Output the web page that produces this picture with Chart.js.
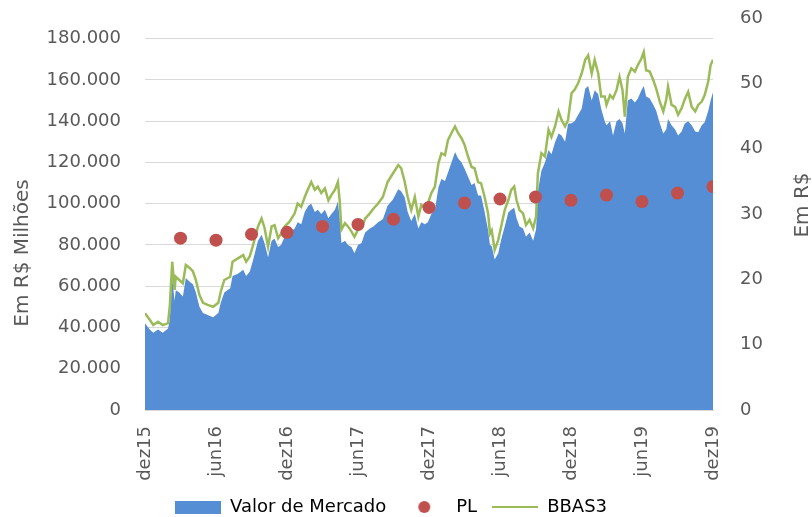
<!DOCTYPE html>
<html>
<head>
<meta charset="utf-8">
<script src="https://cdn.jsdelivr.net/npm/chart.js@4.4.1/dist/chart.umd.min.js"></script>
<style>
    html, body { margin: 0; padding: 0; background: #fff; }
    #wrap { width: 812px; height: 517px; }
</style>
</head>
<body>
<div id="wrap"><canvas id="grafico" width="812" height="517"></canvas></div>
<script>
// meses contados a partir de dez15 (0 = dez15, 48 = dez19)
var meses = [
    0, 0.4, 0.7, 1.1, 1.5, 1.95, 2.1, 2.3, 2.5, 2.6,
    2.9, 3.2, 3.45, 3.8, 4.05, 4.3, 4.6, 4.9, 5.3, 5.75,
    6.2, 6.4, 6.7, 7.2, 7.4, 7.85, 8.3, 8.55, 8.85, 9.1,
    9.55, 9.85, 10.1, 10.4, 10.7, 10.95, 11.25, 11.5, 11.8, 12.2,
    12.65, 12.9, 13.2, 13.5, 13.8, 14.05, 14.35, 14.6, 14.9, 15.2,
    15.5, 15.75, 16.05, 16.3, 16.45, 16.6, 16.9, 17.15, 17.45, 17.7,
    18.0, 18.3, 18.6, 19.0, 19.3, 19.7, 20.1, 20.5, 20.95, 21.4,
    21.65, 21.95, 22.2, 22.5, 22.8, 23.1, 23.35, 23.65, 23.9, 24.2,
    24.5, 24.8, 25.05, 25.35, 25.6, 25.9, 26.2, 26.45, 26.75, 27.0,
    27.3, 27.6, 27.85, 28.15, 28.4, 28.7, 29.0, 29.15, 29.3, 29.55,
    29.85, 30.1, 30.4, 30.7, 30.95, 31.2, 31.4, 31.65, 31.95, 32.2,
    32.5, 32.8, 33.05, 33.2, 33.5, 33.8, 34.1, 34.35, 34.65, 34.95,
    35.2, 35.5, 35.75, 36.05, 36.3, 36.6, 36.9, 37.2, 37.45, 37.75,
    38.0, 38.3, 38.55, 38.85, 39.0, 39.3, 39.55, 39.85, 40.1, 40.35,
    40.55, 40.8, 41.1, 41.4, 41.65, 41.95, 42.15, 42.35, 42.65, 42.95,
    43.2, 43.5, 43.8, 44.05, 44.2, 44.5, 44.8, 45.05, 45.35, 45.6,
    45.9, 46.2, 46.5, 46.75, 47.05, 47.3, 47.6, 47.8, 48
];

// cotacao BBAS3 (R$)
var bbas3 = [
    14.8, 13.8, 13.0, 13.5, 13.0, 13.3, 16.0, 22.7, 18.4, 20.4,
    19.9, 19.4, 22.2, 21.7, 21.2, 19.9, 17.6, 16.4, 16.1, 15.8,
    16.4, 18.1, 19.9, 20.4, 22.7, 23.2, 23.7, 22.7, 23.5, 25.0,
    28.1, 29.3, 27.9, 25.0, 28.1, 28.3, 26.3, 27.0, 28.1, 28.8,
    30.1, 31.6, 31.1, 32.6, 33.9, 34.9, 33.7, 34.2, 33.2, 33.9,
    32.1, 32.9, 33.7, 34.9, 32.1, 27.6, 28.6, 28.1, 27.3, 26.5,
    27.6, 27.8, 29.3, 30.1, 30.8, 31.6, 32.6, 34.9, 36.2, 37.5,
    37.0, 34.9, 32.6, 30.6, 32.6, 29.6, 31.4, 30.9, 31.6, 33.2,
    34.2, 37.8, 39.3, 39.0, 41.3, 42.4, 43.4, 42.4, 41.6, 40.6,
    38.8, 37.2, 37.0, 34.9, 34.7, 32.6, 30.0, 27.0, 27.5, 24.5,
    26.0, 28.1, 30.6, 32.1, 33.7, 34.2, 32.1, 30.6, 30.1, 28.3,
    29.1, 27.8, 29.6, 36.2, 39.3, 38.8, 42.9, 41.8, 43.4, 45.7,
    44.4, 43.4, 44.4, 48.5, 49.0, 50.0, 51.5, 53.6, 54.3, 51.5,
    53.6, 51.5, 48.0, 48.0, 46.7, 48.2, 47.7, 49.0, 51.0, 49.0,
    44.9, 51.0, 52.3, 51.8, 52.8, 53.8, 54.8, 52.0, 51.8, 50.5,
    49.2, 47.2, 45.7, 47.5, 49.5, 46.7, 46.4, 45.2, 46.2, 47.5,
    48.7, 46.4, 45.7, 46.7, 47.2, 48.2, 50.3, 52.8, 53.6
];

// valor de mercado (R$ milhoes)
var valorMercado = [
    42000, 39000, 37500, 39000, 37500, 39500, 44000, 64000, 53000, 58000,
    57000, 55000, 64000, 62000, 61000, 57000, 50000, 47000, 46000, 45000,
    47000, 52000, 57000, 59000, 65000, 66000, 68000, 65000, 67000, 72000,
    82000, 85000, 81000, 74000, 82000, 83000, 79000, 80000, 84000, 86000,
    88000, 91000, 90000, 96000, 99000, 100000, 96000, 97000, 95000, 97000,
    93000, 95000, 97000, 101000, 93000, 81000, 82000, 80000, 79000, 76000,
    80000, 81000, 86000, 88000, 89000, 91000, 92500, 99000, 102000, 107000,
    106000, 103000, 96000, 91600, 95000, 88000, 91000, 90000, 91000, 95000,
    97000, 108000, 112000, 111000, 115000, 120000, 125000, 122000, 120000, 117000,
    113000, 109000, 110000, 104000, 104000, 96000, 87000, 80000, 79500, 73000,
    76000, 82700, 89000, 95700, 97000, 98000, 93000, 89000, 88000, 84000,
    86000, 82000, 87600, 106000, 116000, 120000, 126000, 124000, 129800, 134000,
    133000, 130000, 138700, 139000, 140000, 143000, 146000, 155700, 157000, 150000,
    155000, 153000, 146000, 140000, 138000, 140000, 133000, 140000, 141000, 139000,
    134000, 150000, 151000, 149000, 151000, 155000, 157000, 152000, 151000, 148000,
    145000, 139000, 134000, 136000, 141000, 138000, 136000, 133000, 135000, 138700,
    140000, 138000, 135000, 134600, 138000, 139500, 145000, 150000, 154000
];

// PL por acao, trimestral (R$)
var mesesPL = [3, 6, 9, 12, 15, 18, 21, 24, 27, 30, 33, 36, 39, 42, 45, 48];
var pl = [26.3, 26.0, 26.9, 27.2, 28.1, 28.4, 29.2, 31.0, 31.7, 32.3, 32.6, 32.1, 32.9, 31.9, 33.2, 34.2];

var rotulosX = ['dez15', 'jun16', 'dez16', 'jun17', 'dez17', 'jun18', 'dez18', 'jun19', 'dez19'];
var ticksEsquerda = [0, 20000, 40000, 60000, 80000, 100000, 120000, 140000, 160000, 180000];

var AZUL = '#558ed5';
var VERMELHO = '#c0504d';
var VERDE = '#9bbb59';
var CINZA = '#595959';
var GRADE = '#d9d9d9';

Chart.defaults.font.family = "'DejaVu Sans'";
Chart.defaults.font.size = 18;
Chart.defaults.color = CINZA;

function pontos(xs, ys) {
    return xs.map(function (x, i) { return { x: x, y: ys[i] }; });
}

function formataMilhar(v) {
    return String(v).replace(/\B(?=(\d{3})+(?!\d))/g, '.');
}

function iconeLegenda(tipo) {
    var c = document.createElement('canvas');
    c.width = 46;
    c.height = 14;
    var ctx = c.getContext('2d');
    if (tipo == 'area') {
        ctx.fillStyle = AZUL;
        ctx.fillRect(0, 1, 46, 13);
    } else if (tipo == 'ponto') {
        ctx.fillStyle = VERMELHO;
        ctx.beginPath();
        ctx.arc(23, 7, 6, 0, 2 * Math.PI);
        ctx.fill();
    } else {
        ctx.strokeStyle = VERDE;
        ctx.lineWidth = 2;
        ctx.beginPath();
        ctx.moveTo(0, 7);
        ctx.lineTo(46, 7);
        ctx.stroke();
    }
    return c;
}

function textoVertical(ctx, texto, x, y) {
    ctx.save();
    ctx.translate(x, y);
    ctx.rotate(-Math.PI / 2);
    ctx.fillText(texto, 0, 0);
    ctx.restore();
}

// o padding dos ticks nao deve empurrar a area do grafico para baixo
function larguraFixa(w) {
    return function (s) {
        s.width = w;
        s.paddingTop = 0;
        s.paddingBottom = 0;
    };
}

var titulosEixos = {
    id: 'titulosEixos',
    afterDraw: function (chart) {
        var ctx = chart.ctx;
        ctx.save();
        ctx.fillStyle = CINZA;
        ctx.font = "20px 'DejaVu Sans'";
        ctx.textAlign = 'center';
        ctx.textBaseline = 'middle';
        textoVertical(ctx, 'Em R$ Milhões', 23, 253);
        textoVertical(ctx, 'Em R$', 803, 205);
        ctx.restore();
    }
};

new Chart(document.getElementById('grafico'), {
    type: 'line',
    data: {
        datasets: [
            {
                label: 'PL',
                type: 'scatter',
                data: pontos(mesesPL, pl),
                yAxisID: 'y1',
                backgroundColor: VERMELHO,
                borderColor: VERMELHO,
                borderWidth: 0,
                pointRadius: 6.5,
                order: 1
            },
            {
                label: 'BBAS3',
                data: pontos(meses, bbas3),
                yAxisID: 'y1',
                borderColor: VERDE,
                borderWidth: 2.5,
                pointRadius: 0,
                fill: false,
                tension: 0,
                order: 2
            },
            {
                label: 'Valor de Mercado',
                data: pontos(meses, valorMercado),
                yAxisID: 'y',
                backgroundColor: AZUL,
                borderColor: AZUL,
                borderWidth: 0,
                pointRadius: 0,
                fill: 'origin',
                tension: 0,
                order: 3
            }
        ]
    },
    options: {
        responsive: false,
        animation: false,
        layout: { padding: { top: 18, right: 30, bottom: 0, left: 0 } },
        plugins: {
            tooltip: { enabled: false },
            legend: {
                position: 'bottom',
                maxHeight: 34,
                labels: {
                    usePointStyle: true,
                    pointStyleWidth: 46,
                    boxHeight: 13,
                    padding: 15,
                    color: CINZA,
                    font: { size: 18 },
                    generateLabels: function () {
                        return [
                            { text: 'Valor de Mercado', pointStyle: iconeLegenda('area'), fillStyle: AZUL, strokeStyle: AZUL, lineWidth: 0, datasetIndex: 2 },
                            { text: 'PL', pointStyle: iconeLegenda('ponto'), fillStyle: VERMELHO, strokeStyle: VERMELHO, lineWidth: 0, datasetIndex: 0 },
                            { text: 'BBAS3', pointStyle: iconeLegenda('linha'), fillStyle: VERDE, strokeStyle: VERDE, lineWidth: 0, datasetIndex: 1 }
                        ];
                    }
                }
            }
        },
        scales: {
            x: {
                type: 'linear',
                min: 0,
                max: 48,
                grid: { display: false, drawTicks: false },
                border: { display: true, color: GRADE },
                ticks: {
                    stepSize: 6,
                    autoSkip: false,
                    minRotation: 90,
                    maxRotation: 90,
                    padding: 16,
                    color: CINZA,
                    callback: function (v) { return rotulosX[v / 6]; }
                },
                afterFit: function (s) { s.height = 73; }
            },
            y: {
                position: 'left',
                min: 0,
                max: 190000,
                grid: { color: GRADE, drawTicks: false },
                border: { display: false },
                ticks: {
                    padding: 24,
                    color: CINZA,
                    callback: function (v) { return formataMilhar(v); }
                },
                afterBuildTicks: function (s) {
                    s.ticks = ticksEsquerda.map(function (v) { return { value: v }; });
                },
                afterFit: larguraFixa(145)
            },
            y1: {
                position: 'right',
                min: 0,
                max: 60,
                grid: { display: false, drawTicks: false },
                border: { display: false },
                ticks: { stepSize: 10, padding: 27, color: CINZA },
                afterFit: larguraFixa(69)
            }
        }
    },
    plugins: [titulosEixos]
});
</script>
</body>
</html>
